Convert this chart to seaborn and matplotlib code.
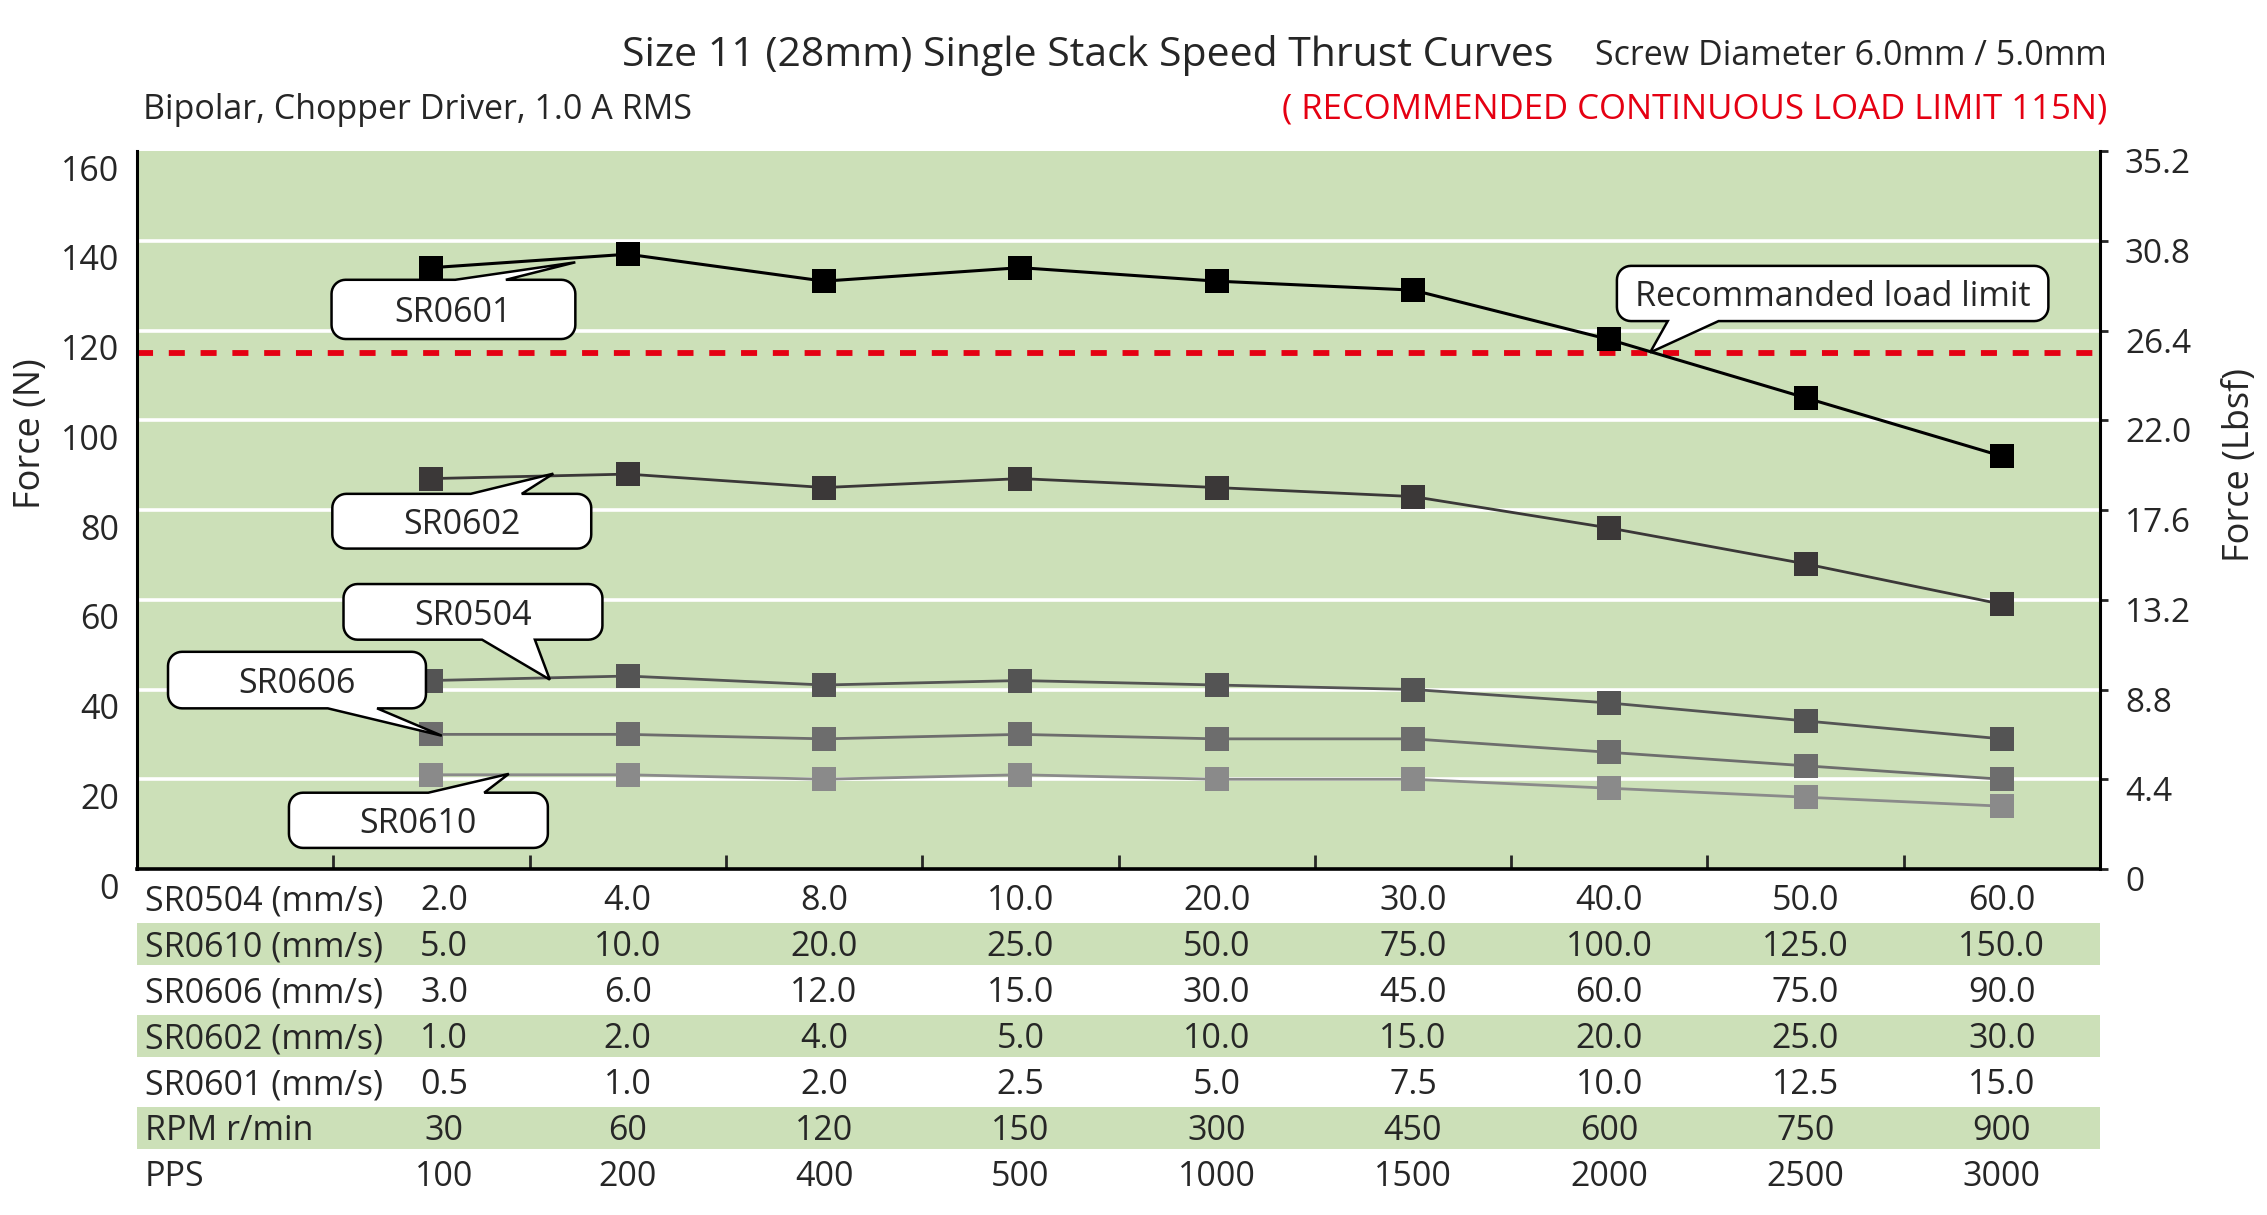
import numpy as np
import pandas as pd
import matplotlib
matplotlib.use("Agg")
import matplotlib.pyplot as plt
import matplotlib.transforms as mtransforms
from matplotlib.patches import Polygon, Rectangle
import seaborn as sns

# ---------------- data ----------------
positions = [1, 2, 3, 4, 5, 6, 7, 8, 9]
series_names = ["SR0601", "SR0602", "SR0504", "SR0606", "SR0610"]
force_sr0601 = [134, 137, 131, 134, 131, 129, 118, 105, 92]
force_sr0602 = [87, 88, 85, 87, 85, 83, 76, 68, 59]
force_sr0504 = [42, 43, 41, 42, 41, 40, 37, 33, 29]
force_sr0606 = [30, 30, 29, 30, 29, 29, 26, 23, 20]
force_sr0610 = [21, 21, 20, 21, 20, 20, 18, 16, 14]
series_colors = ["#000000", "#3b3838", "#545454", "#6d6d6d", "#8a8a8a"]
series_widths = [2.2, 2.0, 2.0, 2.0, 2.0]

load_limit = 115

row_labels = ["SR0504 (mm/s)", "SR0610 (mm/s)", "SR0606 (mm/s)", "SR0602 (mm/s)",
              "SR0601 (mm/s)", "RPM r/min", "PPS"]
speed_sr0504 = ["2.0", "4.0", "8.0", "10.0", "20.0", "30.0", "40.0", "50.0", "60.0"]
speed_sr0610 = ["5.0", "10.0", "20.0", "25.0", "50.0", "75.0", "100.0", "125.0", "150.0"]
speed_sr0606 = ["3.0", "6.0", "12.0", "15.0", "30.0", "45.0", "60.0", "75.0", "90.0"]
speed_sr0602 = ["1.0", "2.0", "4.0", "5.0", "10.0", "15.0", "20.0", "25.0", "30.0"]
speed_sr0601 = ["0.5", "1.0", "2.0", "2.5", "5.0", "7.5", "10.0", "12.5", "15.0"]
rpm_values = ["30", "60", "120", "150", "300", "450", "600", "750", "900"]
pps_values = ["100", "200", "400", "500", "1000", "1500", "2000", "2500", "3000"]

left_ticks = [0, 20, 40, 60, 80, 100, 120, 140, 160]
right_ticks = [0, 4.4, 8.8, 13.2, 17.6, 22.0, 26.4, 30.8, 35.2]
right_tick_labels = ["0", "4.4", "8.8", "13.2", "17.6", "22.0", "26.4", "30.8", "35.2"]

title = "Size 11 (28mm) Single Stack Speed Thrust Curves"
subtitle_right = "Screw Diameter 6.0mm / 5.0mm"
subtitle_left = "Bipolar, Chopper Driver, 1.0 A RMS"
red_note = "( RECOMMENDED CONTINUOUS LOAD LIMIT 115N)"

BG = "#cce0b8"
RED = "#e50012"
FS = 24.5

# ---------------- figure ----------------
sns.set_style("white")
plt.rcParams["font.family"] = ["Open Sans", "DejaVu Sans"]

W, H = 2267, 1215
fig = plt.figure(figsize=(W / 100, H / 100), dpi=100)
ax_l, ax_b, ax_w, ax_h = 137 / W, 1 - 869 / H, (2100 - 137) / W, (869 - 151) / H
ax = fig.add_axes([ax_l, ax_b, ax_w, ax_h])
ax.set_facecolor(BG)
ax.set_xlim(-0.5, 9.5)
ax.set_ylim(0, 160)

for y in left_ticks[1:-1]:
    ax.axhline(y, color="white", lw=2.6, zorder=1)

ax.axhline(load_limit, color=RED, lw=4.2, ls=(0, (2.75, 2.7)), zorder=2)

all_series = [force_sr0601, force_sr0602, force_sr0504, force_sr0606, force_sr0610]
df = pd.DataFrame({
    "pos": positions * len(series_names),
    "force": sum(all_series, []),
    "series": np.repeat(series_names, len(positions)),
})
for k, name in enumerate(series_names):
    sub = df[df["series"] == name]
    sns.lineplot(data=sub, x="pos", y="force", ax=ax, color=series_colors[k],
                 lw=series_widths[k], marker="s", markersize=17, markeredgewidth=0,
                 legend=False, zorder=4 - 0.1 * k)

ax.set_xlabel("")
ax.set_ylabel("")

# axes styling
for s in ["top", "right"]:
    ax.spines[s].set_visible(False)
ax.spines["left"].set_linewidth(2.2)
ax.spines["bottom"].set_linewidth(2.6)
ax.spines["left"].set_color("black")
ax.spines["bottom"].set_color("black")
ax.set_xticks([p - 0.5 for p in positions])
ax.tick_params(axis="x", direction="in", length=10, width=2, labelbottom=False, bottom=True, top=False)
ax.set_yticks(left_ticks)
ax.set_yticklabels([str(t) for t in left_ticks])
ax.tick_params(axis="y", length=0, labelsize=FS, pad=13, left=True)
off_l = mtransforms.ScaledTranslation(0, -12 / 72, fig.dpi_scale_trans)
for lbl in ax.get_yticklabels():
    lbl.set_transform(lbl.get_transform() + off_l)

ax2 = ax.twinx()
ax2.set_ylim(0, 35.2)
ax2.set_yticks(right_ticks)
ax2.set_yticklabels(right_tick_labels)
ax2.tick_params(axis="y", direction="out", length=6, width=2, labelsize=FS - 0.5, pad=12)
for s in ["top", "left", "bottom"]:
    ax2.spines[s].set_visible(False)
ax2.spines["right"].set_linewidth(2.2)
ax2.spines["right"].set_color("black")
off_r = mtransforms.ScaledTranslation(0, -7 / 72, fig.dpi_scale_trans)
for lbl in ax2.get_yticklabels():
    lbl.set_transform(lbl.get_transform() + off_r)

fig.text(31 / W, 1 - 434 / H, "Force (N)", rotation=90, ha="center", va="center", fontsize=26)
fig.text(2240 / W, 1 - 465 / H, "Force (Lbsf)", rotation=90, ha="center", va="center", fontsize=26)

# titles
fig.text(622 / W, 1 - 55 / H, title, ha="left", va="center", fontsize=29.5)
fig.text(2107 / W, 1 - 56 / H, subtitle_right, ha="right", va="center", fontsize=24.5)
fig.text(143 / W, 1 - 110 / H, subtitle_left, ha="left", va="center", fontsize=24.5)
fig.text(2107 / W, 1 - 110 / H, red_note, ha="right", va="center", fontsize=25, color=RED)

# ---------------- speed table ----------------
rows = [speed_sr0504, speed_sr0610, speed_sr0606, speed_sr0602, speed_sr0601, rpm_values, pps_values]
trans_data_fig = mtransforms.blended_transform_factory(ax.transData, fig.transFigure)
trans_axes_fig = mtransforms.blended_transform_factory(ax.transAxes, fig.transFigure)
for i, (label, vals) in enumerate(zip(row_labels, rows)):
    yc = 1 - (898 + 46 * i) / H
    if i % 2 == 1:
        fig.add_artist(Rectangle((0, yc - 21 / H), 1, 42 / H, transform=trans_axes_fig,
                                 facecolor=BG, edgecolor="none", zorder=0))
    yt = yc - 3 / H
    ax.text(0.004, yt, label, transform=trans_axes_fig, ha="left", va="center",
            fontsize=FS, clip_on=False)
    for j, v in enumerate(vals):
        xp = positions[j] + (0.065 if j == 0 else 0)
        ax.text(xp, yt, v, transform=trans_data_fig, ha="center", va="center",
                fontsize=FS, clip_on=False)

# ---------------- callouts ----------------
def callout(text, box, side, base, tip, fs=FS, r_px=14):
    x0, x1, y0, y1 = box
    T = ax.transData
    (px0, py0), (px1, py1) = T.transform([(x0, y0), (x1, y1)])
    bx0 = T.transform((base[0], y0))[0]
    bx1 = T.transform((base[1], y0))[0]
    tx, ty = T.transform(tip)
    r = r_px
    verts = []

    def arc(cx, cy, a0, a1):
        for a in np.linspace(np.radians(a0), np.radians(a1), 10):
            verts.append((cx + r * np.cos(a), cy + r * np.sin(a)))

    verts.append((px0 + r, py0))
    if side == "bottom":
        verts += [(bx0, py0), (tx, ty), (bx1, py0)]
    verts.append((px1 - r, py0))
    arc(px1 - r, py0 + r, -90, 0)
    arc(px1 - r, py1 - r, 0, 90)
    if side == "top":
        verts += [(bx1, py1), (tx, ty), (bx0, py1)]
    arc(px0 + r, py1 - r, 90, 180)
    arc(px0 + r, py0 + r, 180, 270)
    data_verts = T.inverted().transform(verts)
    ax.add_patch(Polygon(data_verts, closed=True, facecolor="white", edgecolor="black",
                         lw=1.8, joinstyle="miter", zorder=6, clip_on=False))
    cx, cy = T.transform(((x0 + x1) / 2, (y0 + y1) / 2))
    tx_d, ty_d = T.inverted().transform((cx, cy - 4))
    ax.text(tx_d, ty_d, text, ha="center", va="center", fontsize=fs, zorder=7)

callout("SR0601", (0.491, 1.733, 118.1, 131.3), "top", (1.121, 1.379), (1.733, 135.2))
callout("SR0602", (0.495, 1.814, 71.4, 83.6), "top", (1.200, 1.460), (1.621, 88.1))
callout("SR0504", (0.552, 1.871, 51.1, 63.5), "bottom", (1.258, 1.527), (1.603, 42.2))
callout("SR0606", (-0.342, 0.972, 35.8, 48.4), "bottom", (0.472, 0.723), (1.053, 29.7))
callout("SR0610", (0.274, 1.593, 4.7, 17.0), "top", (0.984, 1.269), (1.394, 21.2))
callout("Recommanded load limit", (7.039, 9.237, 122.1, 134.4), "bottom", (7.298, 7.557), (7.208, 115.1))

fig.savefig("out.png", dpi=100, facecolor="white")
